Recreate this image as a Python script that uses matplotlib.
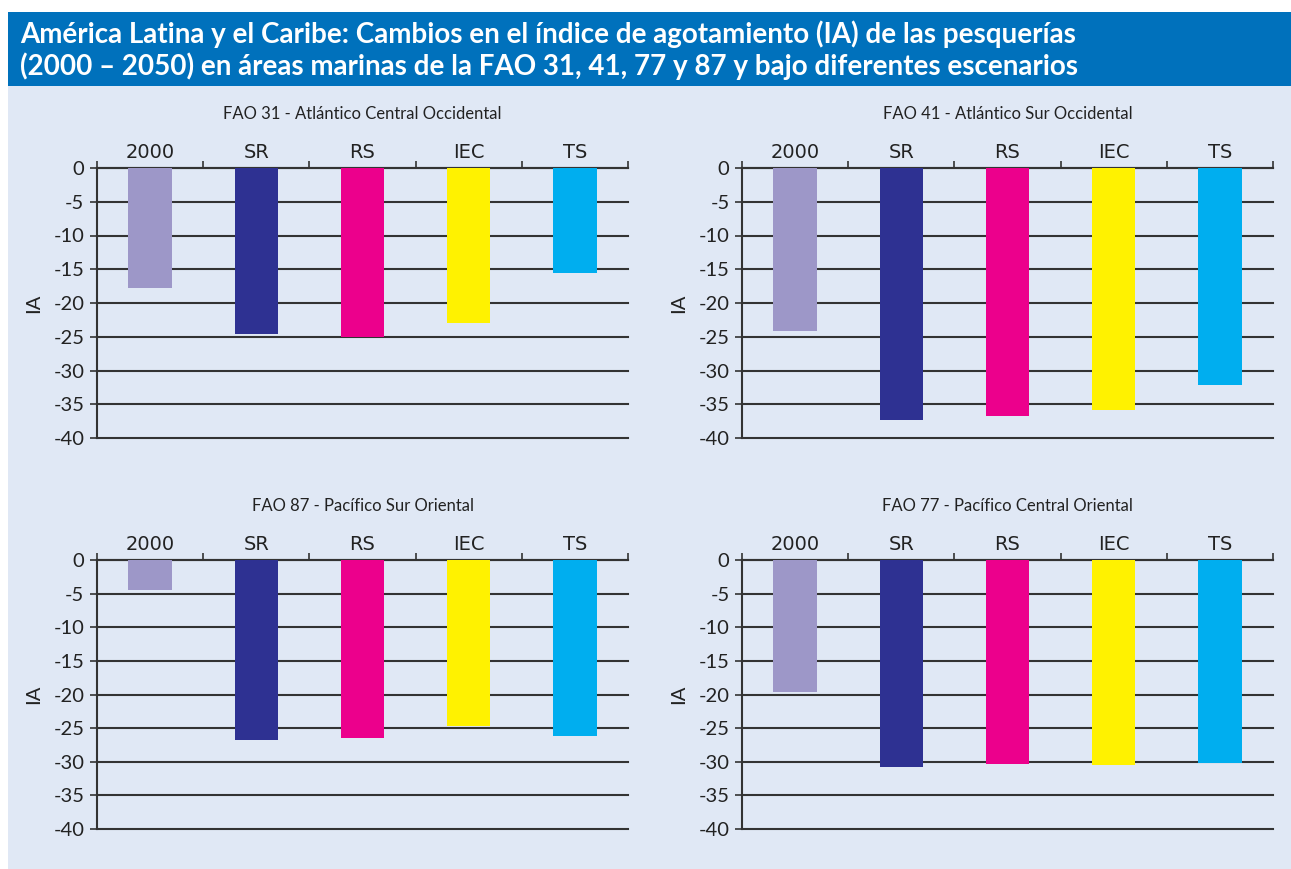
import matplotlib
matplotlib.use("Agg")
import matplotlib.pyplot as plt
from matplotlib.patches import Rectangle
from matplotlib import font_manager

plt.rcParams["axes.unicode_minus"] = False

# data
categories = ["2000", "SR", "RS", "IEC", "TS"]
bar_colors = ["#9D97C8", "#2E3192", "#EC008C", "#FFF200", "#00AEEF"]

fao31 = [-17.8, -24.6, -25.0, -23.0, -15.6]
fao41 = [-24.1, -37.4, -36.7, -35.8, -32.1]
fao87 = [-4.4, -26.7, -26.5, -24.7, -26.1]
fao77 = [-19.7, -30.8, -30.4, -30.5, -30.2]

panel_titles = [
    "FAO 31 - Atlántico Central Occidental",
    "FAO 41 - Atlántico Sur Occidental",
    "FAO 87 - Pacífico Sur Oriental",
    "FAO 77 - Pacífico Central Oriental",
]
panel_values = [fao31, fao41, fao87, fao77]
y_ticks = [0, -5, -10, -15, -20, -25, -30, -35, -40]

title = ("América Latina y el Caribe: Cambios en el índice de agotamiento (IA) de las pesquerías\n"
         "(2000 – 2050) en áreas marinas de la FAO 31, 41, 77 y 87 y bajo diferentes escenarios")

names = {f.name for f in font_manager.fontManager.ttflist}
narrow = "Liberation Sans Narrow" if "Liberation Sans Narrow" in names else "DejaVu Sans Condensed" \
    if "DejaVu Sans Condensed" in names else "DejaVu Sans"
plt.rcParams["font.family"] = ["Lato", "DejaVu Sans"]

W, H = 1291, 869
fig = plt.figure(figsize=(W / 100, H / 100), dpi=100)
fig.patch.set_facecolor("white")

# light background and title band
fig.patches.append(Rectangle((8 / W, 0), 1 - 8 / W, 1 - 86 / H, transform=fig.transFigure,
                             facecolor="#E0E8F5", edgecolor="none", zorder=-10))
fig.patches.append(Rectangle((8 / W, 1 - 86 / H), 1 - 8 / W, 74 / H, transform=fig.transFigure,
                             facecolor="#0071BC", edgecolor="none", zorder=-10))
fig.text(20 / W, 1 - 50 / H, title, color="white", fontsize=20, fontweight="bold",
         va="center", ha="left", linespacing=1.2)
# clipped heading at the very top
fig.text(12 / W, 1 + 8 / H, "GRÁFICO III.5", color="#3C8DD0", fontsize=11,
         fontweight="bold", va="center", ha="left")

dark = "#333333"
positions = [
    (97, 168, 628, 438),
    (742, 168, 1273, 438),
    (97, 560, 628, 829),
    (742, 560, 1273, 829),
]

for (x0, y0, x1, y1), name, vals in zip(positions, panel_titles, panel_values):
    ax = fig.add_axes([x0 / W, 1 - y1 / H, (x1 - x0) / W, (y1 - y0) / H])
    ax.set_facecolor("none")
    xs = [i + 0.5 for i in range(len(categories))]
    ax.bar(xs, vals, width=0.41, color=bar_colors, zorder=3)
    ax.set_xlim(0, 5)
    ax.set_ylim(-40, 0)
    ax.set_yticks(y_ticks)
    ax.set_yticklabels([str(v) for v in y_ticks], fontsize=14.5, color="#222222")
    for v in y_ticks:
        ax.axhline(v, color=dark, linewidth=1.5, zorder=1, clip_on=False)
    ax.xaxis.set_ticks_position("top")
    ax.set_xticks(range(6))
    ax.set_xticklabels([])
    ax.set_xticks(xs, minor=True)
    ax.set_xticklabels(categories, minor=True, fontsize=14, family=narrow, color="#222222")
    ax.tick_params(axis="x", which="minor", length=0, pad=4)
    ax.tick_params(axis="x", which="major", length=5, width=1.2, color=dark, direction="out")
    ax.tick_params(axis="y", length=5, width=1.2, color=dark, pad=4)
    for s in ["right", "bottom"]:
        ax.spines[s].set_visible(False)
    for s in ["left", "top"]:
        ax.spines[s].set_color(dark)
        ax.spines[s].set_linewidth(1.5)
    ax.set_ylabel("IA", fontsize=14.5, color="#222222", labelpad=8)
    ax.set_title(name, fontsize=12, color="#222222", pad=35)

fig.savefig("out.png", dpi=100)
